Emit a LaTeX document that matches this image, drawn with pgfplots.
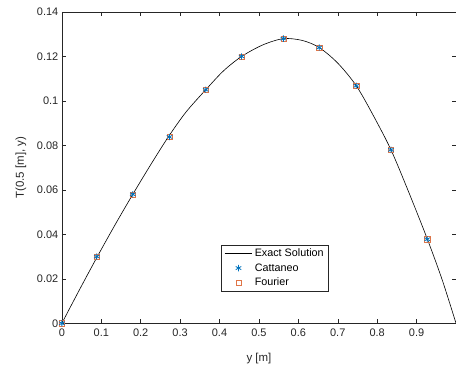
\documentclass[border=0pt]{standalone}
\usepackage{pgfplots}
\pgfplotsset{compat=1.18}
\usepackage{fontspec}
\setmainfont{Liberation Sans}
\definecolor{mblue}{rgb}{0,0.447,0.741}
\definecolor{morange}{rgb}{0.85,0.325,0.098}
\definecolor{axgray}{rgb}{0.15,0.15,0.15}
\begin{document}
\begin{tikzpicture}
\begin{axis}[
  scale only axis,
  width=395pt, height=312pt,
  xmin=0, xmax=1, ymin=0, ymax=0.14,
  xtick={0,0.1,...,0.9},
  ytick={0,0.02,...,0.14},
  yticklabel style={/pgf/number format/fixed, /pgf/number format/precision=2},
  xticklabel style={/pgf/number format/fixed, yshift=-2pt},
  scaled y ticks=false,
  tick align=inside,
  tick pos=both,
  major tick length=4pt,
  axis line style={axgray, line width=0.5pt},
  every tick/.style={axgray, line width=0.5pt},
  ticklabel style={font=\fontsize{11}{12}\selectfont, text=axgray},
  /pgf/number format/assume math mode=true,
  xlabel={y [m]},
  ylabel={T(0.5 [m], y)},
  label style={font=\fontsize{11.5}{13}\selectfont, text=axgray},
  xlabel style={yshift=-10pt},
  ylabel style={yshift=4pt},
  legend style={at={(rel axis cs:0.405,0.253)}, anchor=north west,
    font=\fontsize{10.8}{12.6}\selectfont, draw=axgray, line width=0.5pt,
    inner xsep=2.5pt, inner ysep=2pt, row sep=1.5pt, cells={anchor=west}},
  legend cell align=left,
  legend image code/.code={\draw[mark repeat=2,mark phase=2,#1] plot coordinates {(0pt,0pt) (14pt,0pt) (28pt,0pt)};},
]
\addplot[black, line width=0.6pt, smooth] coordinates {
(0,0) (0.045,0.0152) (0.09,0.0300) (0.135,0.0443) (0.18,0.0580)
(0.225,0.0712) (0.27,0.0838) (0.315,0.0950) (0.365,0.1050) (0.41,0.1135)
(0.456,0.1200) (0.51,0.1252) (0.562,0.1280) (0.61,0.1272) (0.653,0.1240)
(0.70,0.1170) (0.747,0.1068) (0.79,0.0935) (0.835,0.0780) (0.88,0.0590)
(0.927,0.0380) (0.965,0.0195) (1.0,0)
};
\addlegendentry{Exact Solution}
\addplot[only marks, mark=square, mark size=2.6pt, morange!80, line width=0.4pt, forget plot] coordinates {
(0,0) (0.0886,0.0300) (0.18,0.0580) (0.273,0.0838) (0.365,0.1050)
(0.456,0.1200) (0.562,0.1280) (0.653,0.1240) (0.747,0.1068) (0.835,0.0780) (0.927,0.0378)
};
\addplot[only marks, mark=asterisk, mark size=3.2pt, mblue, line width=0.8pt] coordinates {
(0,0) (0.0886,0.0300) (0.18,0.0580) (0.273,0.0838) (0.365,0.1050)
(0.456,0.1200) (0.562,0.1280) (0.653,0.1240) (0.747,0.1068) (0.835,0.0780) (0.927,0.0378)
};
\addlegendentry{Cattaneo}
\addlegendimage{only marks, mark=square, mark size=2.3pt, morange!80, line width=0.4pt}
\addlegendentry{Fourier}
\end{axis}
\pgfresetboundingbox
\useasboundingbox ([xshift=-62pt,yshift=-45pt]current axis.south west) rectangle ([yshift=12pt]current axis.north east);
\end{tikzpicture}
\end{document}
